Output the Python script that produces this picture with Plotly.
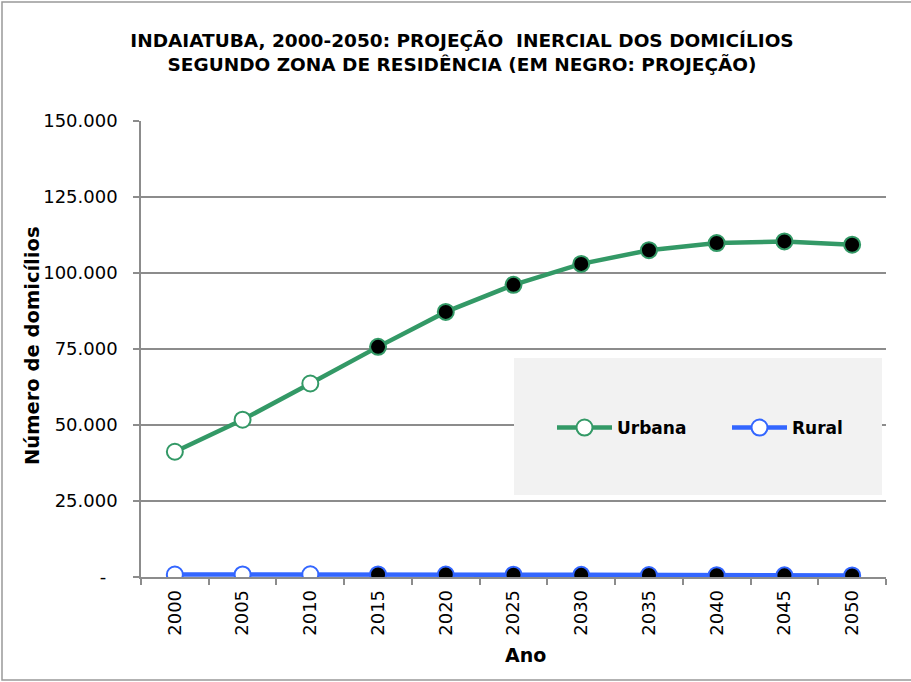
import plotly.graph_objects as go

anos = ["2000", "2005", "2010", "2015", "2020", "2025", "2030", "2035", "2040", "2045", "2050"]
urbana = [41200, 51750, 63650, 75700, 87200, 96100, 103000, 107500, 109850, 110400, 109300]
rural = [800, 850, 900, 850, 800, 750, 700, 650, 600, 550, 500]
projecao = [False, False, False, True, True, True, True, True, True, True, True]

y_tickvals = [0, 25000, 50000, 75000, 100000, 125000, 150000]
y_ticktext = ["-\u00a0\u00a0", "25.000", "50.000", "75.000", "100.000", "125.000", "150.000"]

titulo = "INDAIATUBA, 2000-2050: PROJEÇÃO  INERCIAL DOS DOMICÍLIOS<br>SEGUNDO ZONA DE RESIDÊNCIA (EM NEGRO: PROJEÇÃO)"

VERDE = "#339966"
AZUL = "#3366FF"
FONT = "DejaVu Sans"

fill = ["black" if p else "white" for p in projecao]

fig = go.Figure()
fig.add_trace(go.Scatter(
    x=anos, y=urbana, name="Urbana", mode="lines+markers",
    line=dict(color=VERDE, width=4.5),
    marker=dict(size=16, color=fill, line=dict(color=VERDE, width=2)),
))
fig.add_trace(go.Scatter(
    x=anos, y=rural, name="Rural", mode="lines+markers",
    line=dict(color=AZUL, width=4.5),
    marker=dict(size=16, color=fill, line=dict(color=AZUL, width=2)),
))

L, R, T, B = 141, 25, 121, 105
W, H = 911, 682
pw, ph = W - L - R, H - T - B

def px(x):
    return (x - L) / pw

def py(y):
    return (H - B - y) / ph

fig.update_layout(
    width=W, height=H,
    margin=dict(l=L, r=R, t=T, b=B, autoexpand=False),
    paper_bgcolor="white", plot_bgcolor="white",
    font=dict(family=FONT, color="black", size=18),
    title=dict(text=titulo, x=462 / W, xanchor="center", y=1 - 47 / H, yanchor="top",
               font=dict(family=FONT, size=18.5, color="black", weight="bold")),
    showlegend=True,
    legend=dict(orientation="h", x=px(552), xanchor="left", y=py(428), yanchor="middle",
                bgcolor="rgba(0,0,0,0)", itemwidth=55, entrywidth=105, entrywidthmode="pixels",
                font=dict(family=FONT, size=17, color="black", weight="bold")),
    xaxis=dict(type="category", tickson="boundaries", showgrid=False,
               range=[-0.5, len(anos) - 0.5], autorange=False,
               showline=True, linecolor="#8c8c8c", linewidth=1.5,
               ticks="outside", ticklen=6, tickcolor="#8c8c8c", tickwidth=1.5,
               ticklabelstandoff=4,
               tickangle=-90, tickfont=dict(family=FONT, size=18, color="black")),
    yaxis=dict(range=[0, 150000], tickvals=y_tickvals, ticktext=y_ticktext,
               showgrid=True, gridcolor="#8c8c8c", gridwidth=1.5,
               showline=True, linecolor="#8c8c8c", linewidth=1.5,
               ticks="outside", ticklen=6, tickcolor="#8c8c8c", tickwidth=1.5,
               ticklabelstandoff=12, zeroline=False,
               tickfont=dict(family=FONT, size=18, color="black")),
    shapes=[
        dict(type="rect", xref="paper", yref="paper", x0=px(514), x1=px(882), y0=py(495), y1=py(358),
             fillcolor="#f2f2f2", line=dict(width=0), layer="above"),
        dict(type="rect", xref="paper", yref="paper", x0=px(2), x1=px(915), y0=py(680), y1=py(2),
             fillcolor="rgba(0,0,0,0)", line=dict(color="#999999", width=1.5), layer="above"),
    ],
    annotations=[
        dict(text="Número de domicílios", xref="paper", yref="paper", x=px(32), y=py(346),
             xanchor="center", yanchor="middle", textangle=-90, showarrow=False,
             font=dict(family=FONT, size=19.5, color="black", weight="bold")),
        dict(text="Ano", xref="paper", yref="paper", x=px(525), y=py(655),
             xanchor="center", yanchor="middle", showarrow=False,
             font=dict(family=FONT, size=19, color="black", weight="bold")),
    ],
)

fig.write_html("out.html", config={"displayModeBar": False},
               post_script="document.body.style.margin='0';document.body.style.overflow='hidden';")
